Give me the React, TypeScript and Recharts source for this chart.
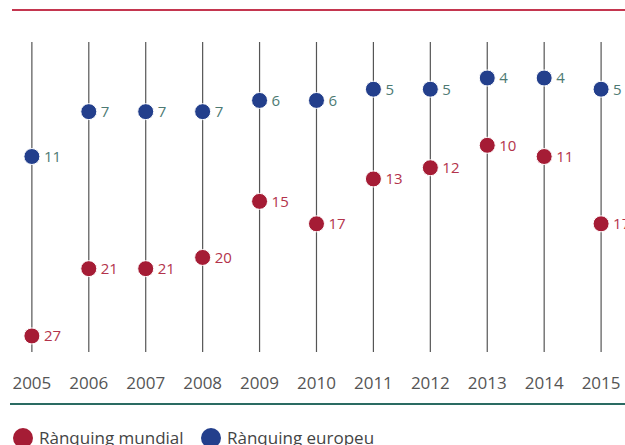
import React from "react";
import { ComposedChart, Line, XAxis, YAxis, ReferenceLine } from "recharts";

// Rànquing per any (posició, menor és millor)
const years = [2005, 2006, 2007, 2008, 2009, 2010, 2011, 2012, 2013, 2014, 2015];
const mundial = [27, 21, 21, 20, 15, 17, 13, 12, 10, 11, 17];
const europeu = [11, 7, 7, 7, 6, 6, 5, 5, 4, 4, 5];

const RED = "#a51c35";
const BLUE = "#233f8c";
const FONT = "'Open Sans', sans-serif";

const data = years.map((year, i) => ({ year, mundial: mundial[i], europeu: europeu[i] }));

const makeLabel = (color: string) => (props: any) => {
  const { x, y, value, index } = props;
  return (
    <text
      key={index}
      x={x + 12}
      y={y}
      dy="0.36em"
      fill={color}
      fontSize={15}
      fontFamily={FONT}
    >
      {value}
    </text>
  );
};

const LegendItem = ({ color, text, left }: { color: string; text: string; left: number }) => (
  <div style={{ position: "absolute", left, top: 426, display: "flex", alignItems: "center" }}>
    <span
      style={{
        width: 20,
        height: 20,
        borderRadius: "50%",
        background: color,
        display: "inline-block",
        marginRight: 6,
      }}
    />
    <span style={{ fontFamily: FONT, fontSize: 17, color: "#444" }}>{text}</span>
  </div>
);

export default function App() {
  return (
    <div
      style={{
        position: "absolute",
        left: 0,
        top: 0,
        width: 625,
        height: 445,
        overflow: "hidden",
        background: "#fff",
      }}
    >
      <div style={{ position: "absolute", left: 12, top: 9, width: 613, height: 2, background: "#c4364f" }} />
      <ComposedChart width={625} height={445} data={data} margin={{ top: 42, right: 0, left: 0, bottom: 53 }}>
        <XAxis
          type="number"
          dataKey="year"
          domain={[2004.44, 2015.42]}
          allowDataOverflow
          ticks={years}
          interval={0}
          axisLine={false}
          tickLine={false}
          tickSize={0}
          tickMargin={25}
          height={40}
          tick={{ fontSize: 17, fill: "#555", fontFamily: FONT }}
        />
        <YAxis hide reversed domain={[0.79, 28.43]} allowDataOverflow />
        {years.map((y) => (
          <ReferenceLine key={y} x={y} stroke="#555" strokeWidth={1.2} />
        ))}
        <Line
          dataKey="mundial"
          stroke="none"
          isAnimationActive={false}
          dot={{ r: 8, fill: RED, stroke: "#fff", strokeWidth: 1 }}
          activeDot={false}
          label={makeLabel("#b3334b")}
        />
        <Line
          dataKey="europeu"
          stroke="none"
          isAnimationActive={false}
          dot={{ r: 8, fill: BLUE, stroke: "#fff", strokeWidth: 1 }}
          activeDot={false}
          label={makeLabel("#4d7a73")}
        />
      </ComposedChart>
      <div style={{ position: "absolute", left: 10, top: 403, width: 615, height: 2, background: "#2a6b62" }} />
      <LegendItem color={RED} text="Rànquing mundial" left={13} />
      <LegendItem color={BLUE} text="Rànquing europeu" left={201} />
    </div>
  );
}
